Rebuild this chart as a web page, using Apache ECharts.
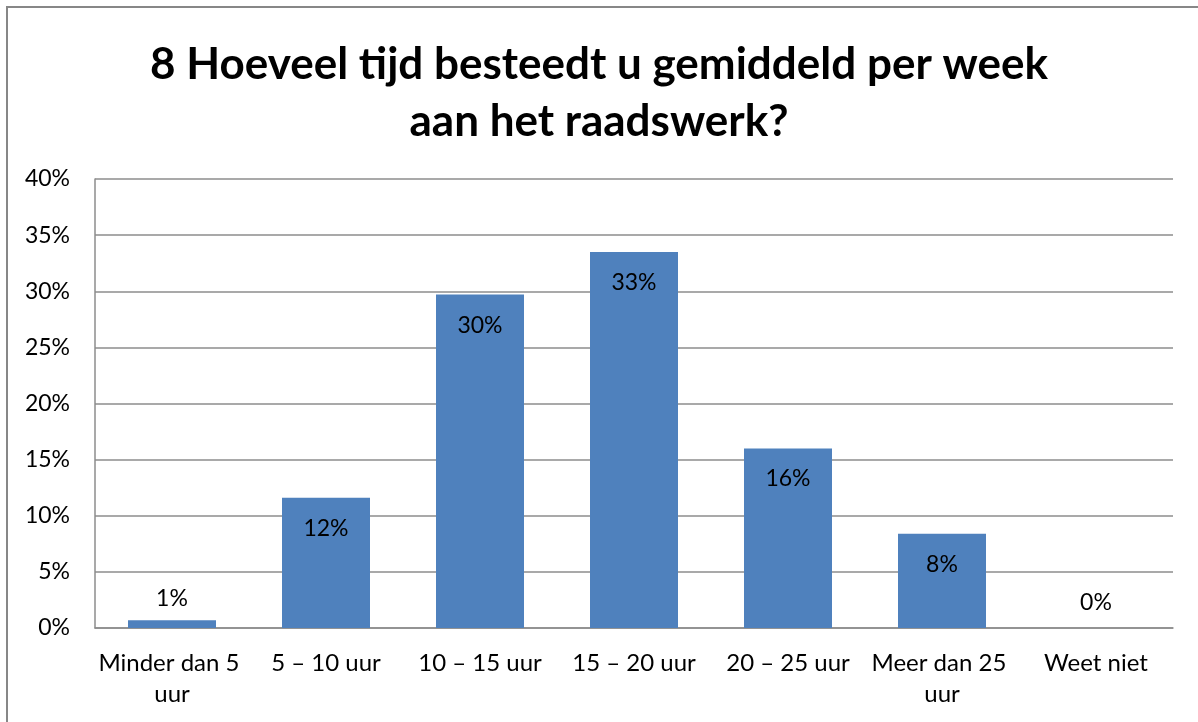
<!DOCTYPE html>
<html>
<head>
<meta charset="utf-8">
<title>Raadswerk</title>
<script src="https://cdn.jsdelivr.net/npm/echarts@6/dist/echarts.min.js"></script>
<style>
  html, body { margin: 0; padding: 0; background: #fff; overflow: hidden; }
  #chart { width: 1198px; height: 722px; }
</style>
</head>
<body>
<div id="chart"></div>
<script>
// categorieen en percentages
var categories = ["Minder dan 5 uur", "5 – 10 uur", "10 – 15 uur", "15 – 20 uur", "20 – 25 uur", "Meer dan 25 uur", "Weet niet"];
var percentages = [0.7, 11.6, 29.7, 33.5, 16.0, 8.4, 0];
var labelTexts = ["1%", "12%", "30%", "33%", "16%", "8%", "0%"];
var yTicks = [0, 5, 10, 15, 20, 25, 30, 35, 40];

var chartTitle = "8 Hoeveel tijd besteedt u gemiddeld per week\naan het raadswerk?";
var fontName = "Lato, 'Open Sans', sans-serif";
var gridColor = "#8c8c8c";

var myChart = echarts.init(document.getElementById("chart"), null, { renderer: "canvas" });

// kleine balken krijgen hun label erboven, de rest binnenin
var barData = percentages.map(function (v, i) {
  var outside = v < 5;
  return {
    value: v,
    label: {
      show: true,
      position: outside ? "top" : "insideTop",
      distance: outside ? (v > 0 ? 10 : 14) : 19,
      formatter: labelTexts[i]
    }
  };
});

var option = {
  animation: false,
  backgroundColor: "#fff",
  title: {
    text: chartTitle,
    left: "center",
    top: 31,
    textStyle: {
      fontFamily: fontName,
      fontSize: 44,
      fontWeight: "bold",
      color: "#000",
      lineHeight: 57
    }
  },
  graphic: [
    {
      type: "rect",
      shape: { x: 7, y: 7, width: 1300, height: 900 },
      style: { fill: "none", stroke: "#878787", lineWidth: 2 },
      silent: true
    }
  ],
  grid: {
    left: 95,
    right: 25,
    top: 179,
    bottom: 94,
    containLabel: false
  },
  xAxis: {
    type: "category",
    data: categories,
    axisLine: { show: true, lineStyle: { color: gridColor, width: 1.5 } },
    axisTick: { show: false },
    axisLabel: {
      color: "#000",
      fontFamily: fontName,
      fontSize: 24,
      margin: 20,
      lineHeight: 31,
      width: 152,
      overflow: "break",
      interval: 0
    }
  },
  yAxis: {
    type: "value",
    min: yTicks[0],
    max: yTicks[yTicks.length - 1],
    interval: 5,
    axisLine: { show: true, lineStyle: { color: gridColor, width: 1.5 } },
    axisTick: { show: false },
    splitLine: { show: true, lineStyle: { color: gridColor, width: 1.5 } },
    axisLabel: {
      color: "#000",
      fontFamily: fontName,
      fontSize: 23,
      margin: 25,
      formatter: "{value}%"
    }
  },
  series: [
    {
      name: "Percentage",
      type: "bar",
      data: barData,
      barWidth: 88,
      itemStyle: { color: "#4f81bd" },
      label: {
        color: "#000",
        fontFamily: fontName,
        fontSize: 23
      }
    }
  ]
};

myChart.setOption(option);
</script>
</body>
</html>
